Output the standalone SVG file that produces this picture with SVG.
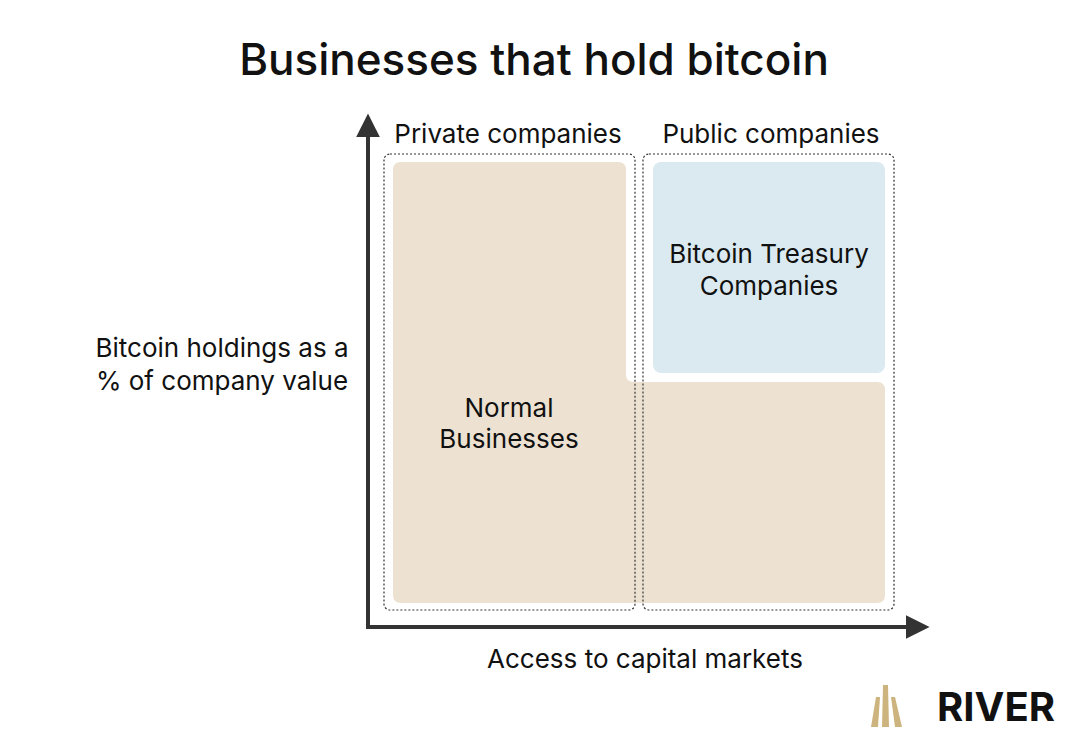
<svg xmlns="http://www.w3.org/2000/svg" width="1067" height="741" viewBox="0 0 1067 741">
<style>
text{font-family:Inter,"Liberation Sans",sans-serif;fill:#111}
.lbl{font-size:26px}
.dash{fill:none;stroke:#333;stroke-width:1.2;stroke-dasharray:2 2}
</style>
<defs>
<marker id="ah" viewBox="0 0 10 10" refX="1" refY="5" markerWidth="24" markerHeight="26" markerUnits="userSpaceOnUse" orient="auto"><path d="M0,0 L10,5 L0,10 z" fill="#333"/></marker>
</defs>
<rect width="1067" height="741" fill="#fff"/>
<text x="534" y="75" text-anchor="middle" font-size="44" font-weight="500">Businesses that hold bitcoin</text>
<g id="normal">
<path d="M401,162 H618 Q626,162 626,170 V374 Q626,382 634,382 H877 Q885,382 885,390 V595 Q885,603 877,603 H401 Q393,603 393,595 V170 Q393,162 401,162 Z" fill="#ede2d1"/>
<text class="lbl" x="509" y="417" text-anchor="middle">Normal</text>
<text class="lbl" x="509" y="448" text-anchor="middle">Businesses</text>
</g>
<g id="treasury">
<rect x="653" y="162" width="232" height="211" rx="8" fill="#dbeaf0"/>
<text class="lbl" x="769" y="263" text-anchor="middle">Bitcoin Treasury</text>
<text class="lbl" x="769" y="295" text-anchor="middle">Companies</text>
</g>
<g id="private">
<rect class="dash" x="384" y="154" width="251" height="456" rx="6"/>
<text class="lbl" x="508" y="143" text-anchor="middle">Private companies</text>
</g>
<g id="public">
<rect class="dash" x="643" y="154" width="251" height="456" rx="6"/>
<text class="lbl" x="771" y="143" text-anchor="middle">Public companies</text>
</g>
<g id="connectors">
<line x1="368" y1="628" x2="368" y2="135" stroke="#333" stroke-width="4" marker-end="url(#ah)"/>
<line x1="366" y1="627" x2="908" y2="627" stroke="#333" stroke-width="4" marker-end="url(#ah)"/>
</g>
<g id="ylabel">
<text class="lbl" x="222" y="357" text-anchor="middle">Bitcoin holdings as a</text>
<text class="lbl" x="222" y="390" text-anchor="middle">% of company value</text>
</g>
<g id="xlabel">
<text class="lbl" x="645" y="668" text-anchor="middle">Access to capital markets</text>
</g>
<g id="logo">
<polygon points="883,685 888,685 889,727 882,727" fill="#cdb47f"/>
<polygon points="876,697 880,697 878,727 871,727" fill="#cdb47f"/>
<polygon points="891,697 895,697 902,727 895,727" fill="#cdb47f"/>
<text x="937" y="721" font-size="40" font-weight="700" textLength="118">RIVER</text>
</g>
</svg>
